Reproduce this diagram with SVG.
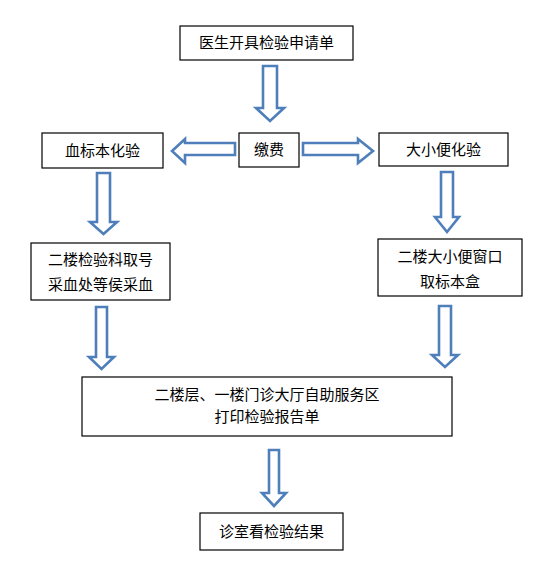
<svg xmlns="http://www.w3.org/2000/svg" width="540" height="578" viewBox="0 0 540 578">
<style>
.box{fill:#fff;stroke:#000;stroke-width:1.2}
.t{font-family:"Liberation Sans","Noto Sans CJK SC",sans-serif;font-size:15px;fill:#000;text-anchor:middle}
.ar{fill:#fff;stroke:#4f7fba;stroke-width:2.6;stroke-linejoin:miter}
</style>
<rect width="540" height="578" fill="#fff"/>
<g id="connectors">
<polygon class="ar" points="263,66 277,66 277,108 284,108 270,121 256,108 263,108"/>
<polygon class="ar" points="235,143 235,155 185,155 185,163 172,151 185,139 185,143"/>
<polygon class="ar" points="303,143 358,143 358,139 373,151 358,163 358,155 303,155"/>
<polygon class="ar" points="97,173 110,173 110,222 117,222 103.5,234 90,222 97,222"/>
<polygon class="ar" points="441,172 453,172 453,217 459,217 447,232 435,217 441,217"/>
<polygon class="ar" points="96,307 107,307 107,357 114,357 101.5,369 89,357 96,357"/>
<polygon class="ar" points="439,306 451,306 451,355 458,355 445,367 432,355 439,355"/>
<polygon class="ar" points="269,450 279,450 279,493 286,493 274,506 262,493 269,493"/>
</g>
<g id="n1"><rect class="box" x="180" y="26" width="173" height="34"/><text class="t" x="266.5" y="48">医生开具检验申请单</text></g>
<g id="n2"><rect class="box" x="239" y="133" width="60" height="34"/><text class="t" x="269" y="155">缴费</text></g>
<g id="n3"><rect class="box" x="42" y="133" width="121" height="35"/><text class="t" x="102.5" y="156">血标本化验</text></g>
<g id="n4"><rect class="box" x="379" y="133" width="129" height="33"/><text class="t" x="443.5" y="155">大小便化验</text></g>
<g id="n5"><rect class="box" x="31" y="243" width="139" height="57"/><text class="t" x="100.5" y="265">二楼检验科取号</text><text class="t" x="100.5" y="290">采血处等侯采血</text></g>
<g id="n6"><rect class="box" x="378" y="239" width="144" height="57"/><text class="t" x="450" y="262">二楼大小便窗口</text><text class="t" x="450" y="287">取标本盒</text></g>
<g id="n7"><rect class="box" x="82" y="377" width="370" height="59"/><text class="t" x="267" y="400">二楼层、一楼门诊大厅自助服务区</text><text class="t" x="267" y="422">打印检验报告单</text></g>
<g id="n8"><rect class="box" x="200" y="513" width="143" height="37"/><text class="t" x="271.5" y="537">诊室看检验结果</text></g>
</svg>
